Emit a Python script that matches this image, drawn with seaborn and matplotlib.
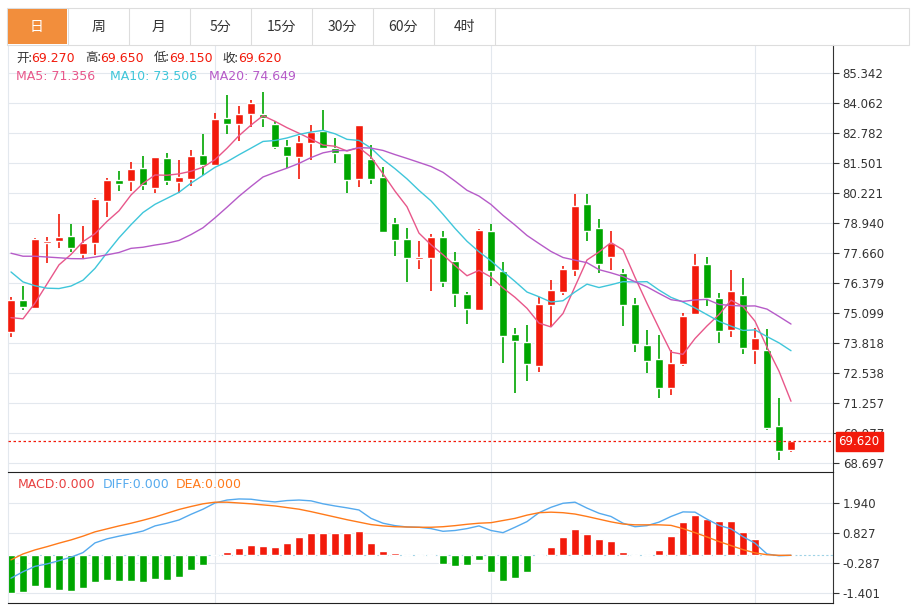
import numpy as np
import pandas as pd
import matplotlib
matplotlib.use("Agg")
import matplotlib.pyplot as plt
from matplotlib import font_manager as fm
import seaborn as sns
from matplotlib.patches import Rectangle

opens = [74.29,75.65,75.31,78.09,78.17,78.39,77.62,78.09,79.88,80.78,80.73,81.29,80.44,81.71,80.69,80.82,81.84,81.42,83.42,83.16,
         83.59,83.59,83.16,82.22,81.76,82.35,82.87,82.14,81.93,80.82,81.67,80.90,78.94,78.26,77.40,77.45,78.34,77.32,75.91,75.23,
         78.60,76.90,74.20,73.86,72.84,75.44,76.00,76.94,79.75,78.73,77.49,76.81,75.48,73.73,73.13,71.90,72.92,75.06,77.19,75.74,
         74.38,75.87,73.52,73.52,70.28,69.27]
closes = [75.65,75.35,78.26,78.17,78.34,77.87,78.09,79.96,80.78,80.61,81.24,80.56,81.76,80.73,80.90,81.80,81.42,83.38,83.16,83.59,
          84.06,83.42,82.18,81.80,82.40,82.82,82.14,81.93,80.78,83.12,80.82,78.56,78.22,77.45,77.49,78.34,76.43,75.91,75.27,78.64,
          76.90,74.12,73.91,72.92,75.48,76.09,76.98,79.66,78.60,77.19,78.09,75.44,73.78,73.05,71.90,72.97,74.97,77.15,75.74,74.33,
          76.04,73.60,74.03,70.19,69.21,69.62]
highs = [75.78,76.26,78.30,78.34,79.32,78.90,78.81,80.01,80.86,81.16,81.54,81.80,81.76,81.93,81.63,82.05,82.74,83.63,84.40,83.93,
         84.19,84.53,83.29,82.48,82.65,83.12,83.76,82.57,81.93,83.12,82.27,81.33,79.15,78.73,78.17,78.47,78.60,77.70,76.00,78.69,
         78.90,77.28,74.46,74.59,75.78,76.51,77.11,80.18,80.18,79.11,78.60,76.98,75.74,74.38,74.16,73.52,75.10,77.62,77.49,75.96,
         76.94,76.60,74.46,74.42,71.47,69.65]
lows = [74.08,75.23,75.31,77.24,77.87,77.70,77.45,77.57,79.19,80.31,80.31,80.35,80.22,80.56,80.22,80.52,80.99,81.42,82.74,82.44,
        83.04,83.04,82.10,81.29,80.82,81.63,82.10,81.50,80.22,80.48,80.61,78.56,77.53,76.43,76.98,76.04,76.21,75.35,74.63,75.23,
        76.26,72.97,71.69,72.20,72.58,74.51,75.87,76.68,78.17,76.81,76.94,74.55,73.43,72.54,71.47,71.60,72.84,75.06,75.40,73.82,
        74.08,73.35,72.92,70.11,68.83,69.15]
# closes before the visible window (for moving-average warm-up)
earlier_closes = [77.9,78.3,78.8,79.0,78.6,78.2,78.5,78.9,78.6,77.7,79.6,79.9,79.2,78.5,76.8,75.6,74.9,74.1,74.25]
ma_labels = [71.356, 73.506, 74.649]

macd_hist = [-1.40,-1.36,-1.13,-1.23,-1.30,-1.34,-1.21,-0.98,-0.93,-0.94,-0.95,-0.99,-0.89,-0.93,-0.79,-0.53,-0.35,0.0,
             0.12,0.27,0.37,0.35,0.31,0.46,0.68,0.82,0.82,0.84,0.82,0.90,0.46,0.16,0.09,0.0,-0.01,
             -0.04,-0.33,-0.38,-0.35,-0.19,-0.62,-0.94,-0.85,-0.62,-0.03,0.30,0.67,0.98,0.80,0.61,0.52,0.12,-0.04,0.0,
             0.20,0.71,1.23,1.51,1.35,1.26,1.27,0.87,0.61,0.04,-0.01,0.0]
diff = [-0.85,-0.61,-0.41,-0.32,-0.20,-0.07,0.10,0.46,0.61,0.71,0.80,0.90,1.09,1.19,1.31,1.52,1.71,1.94,2.05,2.09,
        2.08,2.02,1.98,2.03,2.05,2.02,1.91,1.83,1.76,1.68,1.37,1.19,1.10,1.05,1.04,0.99,0.89,0.92,0.99,1.09,
        0.92,0.84,1.04,1.25,1.58,1.78,1.93,1.97,1.75,1.56,1.44,1.19,1.06,1.10,1.23,1.44,1.61,1.60,1.34,1.11,
        0.98,0.69,0.45,0.05,-0.02,0.0]
dea = [-0.17,0.05,0.20,0.32,0.45,0.57,0.71,0.87,0.98,1.09,1.19,1.30,1.42,1.56,1.70,1.81,1.91,1.97,1.97,1.94,
       1.91,1.87,1.83,1.77,1.71,1.62,1.52,1.42,1.32,1.23,1.14,1.09,1.06,1.05,1.04,1.04,1.06,1.10,1.15,1.19,
       1.21,1.29,1.37,1.49,1.58,1.60,1.58,1.53,1.44,1.34,1.24,1.16,1.13,1.13,1.13,1.11,0.99,0.84,0.68,0.51,
       0.36,0.21,0.09,0.02,0.0,0.0]
tabs = ["日","周","月","5分","15分","30分","60分","4时"]
price_ticks = [85.342,84.062,82.782,81.501,80.221,78.940,77.660,76.379,75.099,73.818,72.538,71.257,69.977,68.697]
macd_ticks = [1.940,0.827,-0.287,-1.401]

RED = "#f21a0b"; GREEN = "#00a600"
C5, C10, C20 = "#e8578a", "#3fc6da", "#b65bc8"
CDIFF, CDEA = "#55aaee", "#ff7a1a"

n = len(closes)
idx = np.arange(n)
allc = pd.Series(earlier_closes + closes)
ma = {w: allc.rolling(w).mean().values[len(earlier_closes):] for w in (5, 10, 20)}
df = pd.DataFrame({"i": idx, "ma5": ma[5], "ma10": ma[10], "ma20": ma[20], "diff": diff, "dea": dea})

sns.set_style("white")
cjk = None
for f in fm.fontManager.ttflist:
    if "Noto Sans CJK" in f.name:
        cjk = f.name
        if f.name.endswith("SC"):
            break
plt.rcParams["font.family"] = "sans-serif"
plt.rcParams["font.sans-serif"] = ["DejaVu Sans"] + ([cjk] if cjk else [])
CJK = fm.FontProperties(family=cjk if cjk else "DejaVu Sans", size=10)

W, H = 911, 607
fig = plt.figure(figsize=(W/100, H/100), dpi=100)

def ax_px(l, t, r, b):
    return fig.add_axes([l/W, 1-b/H, (r-l)/W, (b-t)/H])

# header tabs
fig.add_artist(Rectangle((7/W, 1-45/H), (909-7)/W, (45-8)/H, fill=False, ec="#dddddd", lw=0.8))
for k, t in enumerate(tabs):
    x0 = 7 + 61*k
    if k == 0:
        fig.add_artist(Rectangle(((x0+1)/W, 1-44/H), 59/W, 35/H, fc="#f28e3c", ec="none"))
    else:
        fig.add_artist(plt.Line2D([x0/W, x0/W], [1-45/H, 1-8/H], color="#dddddd", lw=0.8))
    fig.text((x0+30)/W, 1-26.5/H, t, ha="center", va="center", fontproperties=CJK,
             color="white" if k == 0 else "#333333")
fig.add_artist(plt.Line2D([(7+61*8)/W]*2, [1-45/H, 1-8/H], color="#dddddd", lw=0.8))

xlim = (-0.25, (833-11)/12)
ax = ax_px(8, 45, 833, 472)
ax2 = ax_px(8, 472, 833, 603)

# main panel
for p in price_ticks:
    ax.axhline(p, color="#e3e8ee", lw=0.8, zorder=0)
for v in (17, 40, 62):
    ax.axvline(v, color="#e3e8ee", lw=0.8, zorder=0)
    ax2.axvline(v, color="#e3e8ee", lw=0.8, zorder=0)
cols = [RED if c >= o else GREEN for o, c in zip(opens, closes)]
ax.vlines(idx, lows, highs, colors=cols, lw=1.2, zorder=2)
bot = np.minimum(opens, closes); hgt = np.maximum(np.abs(np.array(closes)-np.array(opens)), 0.05)
ax.bar(idx, hgt, bottom=bot, width=0.72, color=cols, zorder=3)
sns.lineplot(data=df, x="i", y="ma5", ax=ax, color=C5, lw=1, zorder=4)
sns.lineplot(data=df, x="i", y="ma10", ax=ax, color=C10, lw=1, zorder=4)
sns.lineplot(data=df, x="i", y="ma20", ax=ax, color=C20, lw=1, zorder=4)
ax.axhline(closes[-1], color=RED, lw=0.9, ls=(0, (2, 2)), zorder=5)
ax.set_xlim(xlim); ax.set_ylim(68.31, 86.54)
ax.set_xlabel(""); ax.set_ylabel("")
ax.set_xticks([]); ax.yaxis.tick_right()
ax.set_yticks(price_ticks)
ax.set_yticklabels([f"{p:.3f}" for p in price_ticks], fontsize=8.5, color="#333333")
ax.tick_params(axis="y", length=4, color="#333333", pad=3)
for s in ("top", "bottom"):
    ax.spines[s].set_visible(False)
ax.spines["right"].set_color("#333333"); ax.spines["right"].set_linewidth(0.8)
ax.spines["left"].set_color("#e3e8ee")
ax.annotate(f"{closes[-1]:.3f}", xy=(1.0, closes[-1]), xycoords=("axes fraction", "data"),
            xytext=(4, 0), textcoords="offset points", va="center", ha="left", fontsize=8.5, color="white",
            bbox=dict(boxstyle="square,pad=0.25", fc=RED, ec=RED), annotation_clip=False, zorder=10)

# header values
def pair(x, lab, val):
    fig.text(x/W, 1-58/H, lab, fontproperties=fm.FontProperties(family=cjk, size=9) if cjk else None,
             color="#333", va="center")
    fig.text((x+15)/W, 1-58/H, val, fontsize=9, color=RED, va="center")
pair(16, "开:", f"{opens[-1]:.3f}")
pair(85, "高:", f"{highs[-1]:.3f}")
pair(154, "低:", f"{lows[-1]:.3f}")
pair(223, "收:", f"{closes[-1]:.3f}")
fig.text(16/W, 1-77/H, f"MA5: {ma_labels[0]:.3f}", fontsize=9, color=C5, va="center")
fig.text(110/W, 1-77/H, f"MA10: {ma_labels[1]:.3f}", fontsize=9, color=C10, va="center")
fig.text(209/W, 1-77/H, f"MA20: {ma_labels[2]:.3f}", fontsize=9, color=C20, va="center")

# MACD panel
for p in macd_ticks:
    ax2.axhline(p, color="#e3e8ee", lw=0.8, zorder=0)
ax2.axhline(0, color="#9fd3e6", lw=0.8, ls=(0, (2, 2)), zorder=1)
hc = [RED if v > 0 else GREEN for v in macd_hist]
ax2.bar(idx, macd_hist, width=0.72, color=hc, zorder=2)
sns.lineplot(data=df, x="i", y="diff", ax=ax2, color=CDIFF, lw=1, zorder=3)
sns.lineplot(data=df, x="i", y="dea", ax=ax2, color=CDEA, lw=1, zorder=3)
ax2.set_xlim(xlim); ax2.set_ylim(-1.77, 3.09)
ax2.set_xlabel(""); ax2.set_ylabel("")
ax2.set_xticks([]); ax2.yaxis.tick_right()
ax2.set_yticks(macd_ticks)
ax2.set_yticklabels([f"{p:.3f}" for p in macd_ticks], fontsize=8.5, color="#333333")
ax2.tick_params(axis="y", length=4, color="#333333", pad=3)
ax2.spines["top"].set_color("#222"); ax2.spines["bottom"].set_color("#222")
ax2.spines["left"].set_color("#e3e8ee")
ax2.spines["right"].set_color("#333333")
for s in ax2.spines.values():
    s.set_linewidth(0.8)
fig.text(18/W, 1-485/H, "MACD:0.000", fontsize=9, color="#e84040", va="center")
fig.text(103/W, 1-485/H, "DIFF:0.000", fontsize=9, color=CDIFF, va="center")
fig.text(176/W, 1-485/H, "DEA:0.000", fontsize=9, color=CDEA, va="center")

fig.savefig("out.png", dpi=100)
